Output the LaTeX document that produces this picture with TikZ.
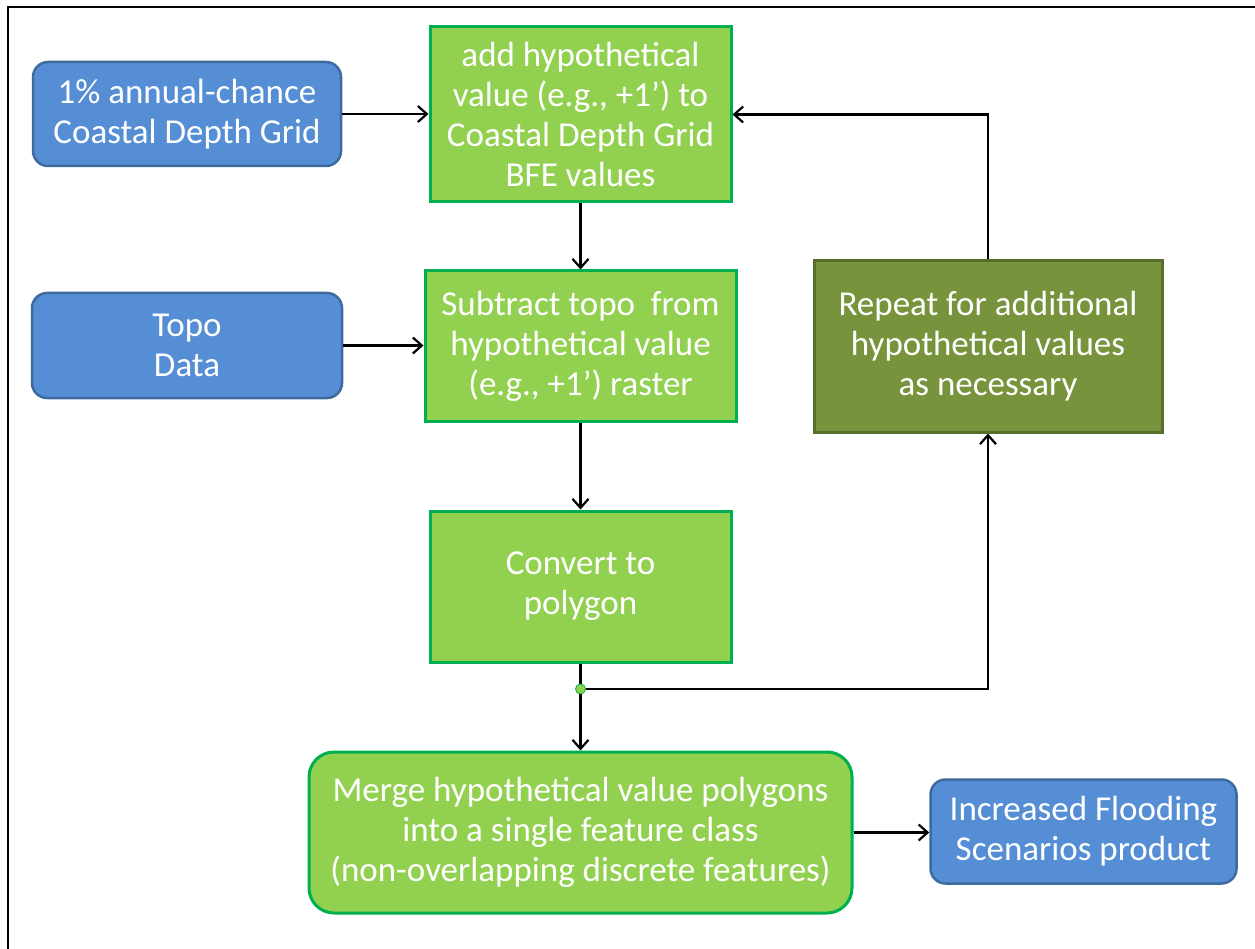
\documentclass[tikz,border=0pt]{standalone}
\usepackage{fontspec}
\setmainfont{Carlito}
\usepackage{xcolor}
\usetikzlibrary{arrows.meta}

\definecolor{inputblue}{HTML}{558ED5}
\definecolor{inputedge}{HTML}{3F6A9E}
\definecolor{procgreen}{HTML}{92D050}
\definecolor{procedge}{HTML}{00B050}
\definecolor{loopgreen}{HTML}{77933C}
\definecolor{loopedge}{HTML}{56702C}

\begin{document}
\begin{tikzpicture}[x = 1pt, y = -1pt,
		boxtext/.style = {text = white, align = center, font = \fontsize{35}{40}\selectfont, inner sep = 0pt},
		inputbox/.style = {boxtext, fill = inputblue, draw = inputedge, line width = 2.5pt, rounded corners = 15pt},
		procbox/.style = {boxtext, fill = procgreen, draw = procedge, line width = 3pt},
		loopbox/.style = {boxtext, fill = loopgreen, draw = loopedge, line width = 3pt}]
	\useasboundingbox (0,0) rectangle (1255,949);
	\draw [line width = 2.5pt] (8,949) -- (8,7) -- (1255,7);

	\node [inputbox, minimum width = 308pt, minimum height = 104pt] (grid) at (187,114) {1\% annual-chance\\Coastal Depth Grid};
	\node [procbox, minimum width = 301pt, minimum height = 175pt] (addval) at (580.5,114.5) {add hypothetical\\value (e.g., +1’) to\\Coastal Depth Grid\\BFE values};
	\node [inputbox, minimum width = 310pt, minimum height = 105pt] (topo) at (187,345.5) {Topo\\Data};
	\node [procbox, minimum width = 311pt, minimum height = 150pt] (subtract) at (580.5,346) {Subtract topo~ from\\hypothetical value\\(e.g., +1’) raster};
	\node [loopbox, minimum width = 348pt, minimum height = 171pt] (repeat) at (988,346.5) {Repeat for additional\\hypothetical values\\as necessary};
	\node [procbox, minimum width = 301pt, minimum height = 151pt] (convert) at (580.5,586.5) {Convert to\\polygon};
	\node [procbox, rounded corners = 25pt, minimum width = 543pt, minimum height = 161pt] (merge) at (580.5,832.5) {Merge hypothetical value polygons\\into a single feature class\\(non-overlapping discrete features)};
	\node [inputbox, minimum width = 306pt, minimum height = 104pt] (product) at (1083.5,831.5) {Increased Flooding\\Scenarios product};
	\coordinate (split) at (580.5,689);

	\begin{scope}[line width = 2.2pt, -{Straight Barb[length = 9pt, width = 16pt]}]
		\draw (grid.east) -- (grid.east -| addval.west);
		\draw (addval.south) -- (subtract.north);
		\draw (topo.east) -- (topo.east -| subtract.west);
		\draw (subtract.south) -- (convert.north);
		\draw (convert.south) -- (split) -- (merge.north);
		\draw (split) -| (repeat.south);
		\draw (repeat.north) |- (addval.east);
		\draw (merge.east) -- (merge.east -| product.west);
	\end{scope}
	\filldraw [fill = procgreen, draw = procedge, line width = 0.8pt] (split) circle (5pt);
\end{tikzpicture}
\end{document}
